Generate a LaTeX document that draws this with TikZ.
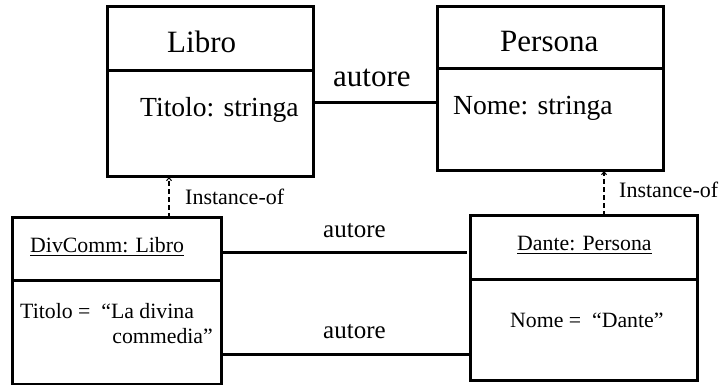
\documentclass[tikz,border=0pt]{standalone}
\usepackage{fontspec}
\setmainfont{Liberation Serif}
\usetikzlibrary{arrows.meta}
\begin{document}
\begin{tikzpicture}[x=1pt,y=-1pt,
  umlbox/.style={draw, line width=3pt, inner sep=0pt, outer sep=0pt},
  divider/.style={line width=3pt},
  conn/.style={line width=3pt},
  inst/.style={line width=1.2pt, dash pattern=on 5pt off 3pt, -{Straight Barb[length=3pt,width=5pt,line width=1pt]}},
  lbl/.style={inner sep=0pt, anchor=base west},
  big/.style={font=\fontsize{31}{37}\selectfont},
  mid/.style={font=\fontsize{27.6}{33}\selectfont},
  lab/.style={font=\fontsize{25}{30}\selectfont},
  small/.style={font=\fontsize{21.8}{26}\selectfont},
  tiny/.style={font=\fontsize{22}{26}\selectfont}]
\useasboundingbox (0,0) rectangle (721,385);

% class boxes
\node[umlbox, minimum width=206pt, minimum height=170pt] (libro) at (210,92) {};
\draw[divider] (libro.west |- 0,71) -- (libro.east |- 0,71);
\node[umlbox, minimum width=226pt, minimum height=164pt] (persona) at (550,89) {};
\draw[divider] (persona.west |- 0,69) -- (persona.east |- 0,69);

% object boxes
\node[umlbox, minimum width=209pt, minimum height=166pt] (divcomm) at (116.5,301) {};
\draw[divider] (divcomm.west |- 0,280) -- (divcomm.east |- 0,280);
\node[umlbox, minimum width=227pt, minimum height=164pt] (dante) at (583.5,298) {};
\draw[divider] (dante.west |- 0,279) -- (dante.east |- 0,279);

% texts
\node[lbl, big] (tlibro) at (167,53) {Libro};
\node[lbl, mid] (tlibroattr) at (140,117) {Titolo: stringa};
\node[lbl, big] (tpersona) at (500,52) {Persona};
\node[lbl, mid] (tpersonaattr) at (453,115) {Nome: stringa};
\node[lbl, big] (tautore) at (333,87) {autore};

\node[lbl, small] (tdivcomm) at (30,253) {\underline{DivComm: Libro}};
\node[lbl, small] (ttitolo) at (20,318) {Titolo =\ \ “La divina};
\node[inner sep=0pt, anchor=base east, small] (tcomm) at (213,343) {commedia”};
\node[lbl, small] (tdante) at (517,251) {\underline{Dante: Persona}};
\node[lbl, small] (tnome) at (510,327) {Nome =\ \ “Dante”};

\node[lbl, lab] (tautore1) at (323,238) {autore};
\node[lbl, lab] (tautore2) at (323,338) {autore};

\node[lbl, tiny] (tinst1) at (185,205) {Instance-of};
\node[lbl, tiny] (tinst2) at (619,198) {Instance-of};

% connectors
\draw[conn] (libro.east |- 0,103) -- (persona.west |- 0,103);
\draw[conn, shorten >=3pt] (divcomm.east |- 0,253) -- (dante.west |- 0,253);
\draw[conn] (divcomm.east |- 0,354) -- (dante.west |- 0,354);

\draw[inst] (divcomm.north -| 169,0) -- (libro.south -| 169,0);
\draw[inst] (dante.north -| 604,0) -- (persona.south -| 604,0);
\end{tikzpicture}
\end{document}
